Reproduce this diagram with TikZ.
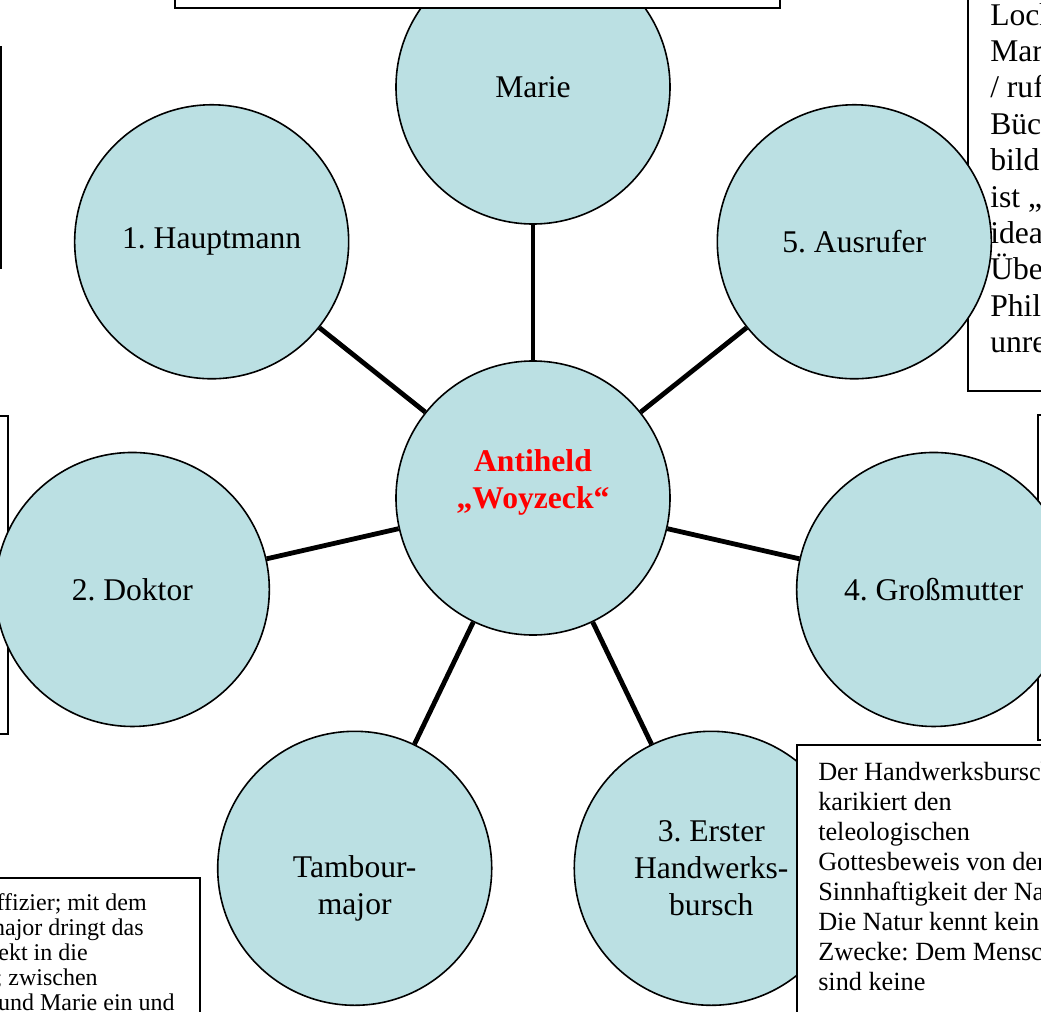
\documentclass[tikz,border=0pt]{standalone}
\usepackage{fontspec}
\setmainfont{Liberation Serif}
\usepackage{xcolor}
\definecolor{kreisblau}{RGB}{187,224,227}
\frenchspacing

\begin{document}
\begin{tikzpicture}[x=0.75pt,y=0.75pt,
    figur/.style={circle,draw,fill=kreisblau,line width=1.2pt,minimum size=205.5pt,inner sep=0pt,
        align=center,font=\fontsize{23.7pt}{27.8pt}\selectfont},
    verbindung/.style={line width=3.6pt},
    kasten/.style={draw,fill=white,line width=1.1pt},
    notiz/.style={inner sep=0pt,align=left,anchor=north west},
    zeile/.style={inner sep=0pt,anchor=base east,font=\fontsize{18pt}{18.75pt}\selectfont}]
    \useasboundingbox (-533,-513) rectangle (508,498);
    \clip (-533,-513) rectangle (508,498);
    % Kaesten hinter den Kreisen
    \draw[kasten] (-580,230) rectangle (-532,451);
    \draw[kasten] (435,107) rectangle (560,530);
    \node[notiz,font=\fontsize{23.7pt}{27.3pt}\selectfont] (ausrufertext) at (457,495)
        {Loch\\Mar\\/ ruf\\Büch\\bild\\ist „\\idea\\Übe\\Phil\\unre};
    \draw[kasten] (-580,-236) rectangle (-525,82);
    \draw[kasten] (505,-242) rectangle (560,83);
    \draw[kasten] (-580,-530) rectangle (-333,-380);
    \node[zeile] (tam1) at (-386,-412) {ffizier; mit dem};
    \node[zeile] (tam2) at (-389,-437) {najor dringt das};
    \node[zeile] (tam3) at (-445,-462) {ekt in die};
    \node[zeile] (tam4) at (-435,-487) {; zwischen};
    \node[zeile] (tam5) at (-358,-512) {und Marie ein und};
    % Kreise
    \node[figur,text=red,font=\fontsize{23.7pt}{27.8pt}\selectfont\bfseries] (held) at (0,0) {Antiheld\\„Woyzeck“\\\mbox{}};
    \node[figur] (marie) at (90:411) {Marie};
    \node[figur] (ausrufer) at (38.57:411) {5. Ausrufer};
    \node[figur] (grossmutter) at (-12.86:411) {4. Großmutter};
    \node[figur] (handwerk) at (-64.29:411) {3. Erster\\Handwerks-\\bursch};
    \node[figur] (tambour) at (-115.71:411) {\strut\\Tambour-\\major};
    \node[figur] (doktor) at (192.86:411) {2. Doktor};
    \node[figur] (hauptmann) at (141.43:411) {1. Hauptmann};
    \draw[verbindung] (held) -- (marie);
    \draw[verbindung] (held) -- (ausrufer);
    \draw[verbindung] (held) -- (grossmutter);
    \draw[verbindung] (held) -- (handwerk);
    \draw[verbindung] (held) -- (tambour);
    \draw[verbindung] (held) -- (doktor);
    \draw[verbindung] (held) -- (hauptmann);
    % Kaesten vor den Kreisen
    \draw[kasten] (-358,490) rectangle (247,530);
    \draw[kasten] (264,-530) rectangle (560,-247);
    \node[notiz,font=\fontsize{19.7pt}{22.5pt}\selectfont] (handwerktext) at (285,-264)
        {Der Handwerksbursch\\karikiert den\\teleologischen\\Gottesbeweis von der\\Sinnhaftigkeit der Na\\Die Natur kennt kein\\Zwecke: Dem Mensc\\sind keine};
\end{tikzpicture}
\end{document}
